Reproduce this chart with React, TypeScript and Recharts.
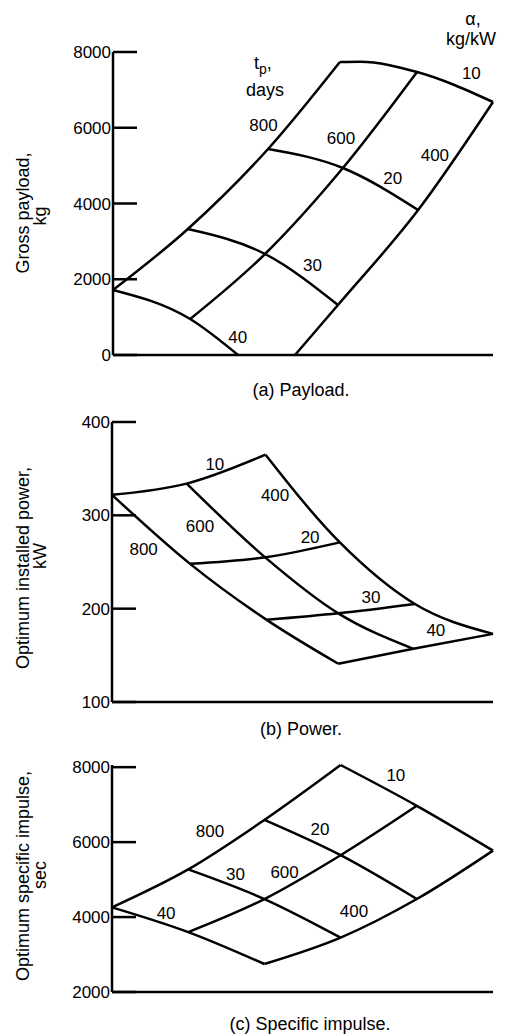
import React from 'react';
import { LineChart, Line, XAxis, YAxis, ReferenceDot } from 'recharts';

type Pt = { x: number; y: number };
type Tag = { x: number; y: number; text: string };

const FONT = "'Liberation Sans', Arial, sans-serif";

// x is the carpet offset (no physical axis), y is the plotted quantity

// (a) gross payload, kg
const payloadTp800: Pt[] = [{ x: 0, y: 1716 }, { x: 19.7, y: 3327 }, { x: 40.8, y: 5439 }, { x: 59.7, y: 7736 }];
const payloadTp600: Pt[] = [{ x: 20.3, y: 950 }, { x: 40, y: 2667 }, { x: 60.5, y: 4937 }, { x: 80, y: 7472 }];
const payloadTp400: Pt[] = [{ x: 47.9, y: 0 }, { x: 59.2, y: 1320 }, { x: 80.3, y: 3828 }, { x: 100, y: 6680 }];
const payloadA10: Pt[] = [{ x: 59.7, y: 7736 }, { x: 65, y: 7740 }, { x: 80, y: 7472 }, { x: 100, y: 6680 }];
const payloadA20: Pt[] = [{ x: 40.8, y: 5439 }, { x: 60.5, y: 4937 }, { x: 80.3, y: 3828 }];
const payloadA30: Pt[] = [{ x: 19.7, y: 3327 }, { x: 40, y: 2667 }, { x: 59.2, y: 1320 }];
const payloadA40: Pt[] = [{ x: 0, y: 1716 }, { x: 20.3, y: 950 }, { x: 32.9, y: 0 }];
const payloadTicks = [0, 2000, 4000, 6000, 8000];
const payloadTags: Tag[] = [
  { x: 39.6, y: 6085, text: '800' },
  { x: 60, y: 5742, text: '600' },
  { x: 84.7, y: 5293, text: '400' },
  { x: 94.3, y: 7458, text: '10' },
  { x: 73.6, y: 4686, text: '20' },
  { x: 52.5, y: 2376, text: '30' },
  { x: 32.8, y: 488, text: '40' },
];

// (b) optimum installed power, kW
const powerTp800: Pt[] = [{ x: 0, y: 322 }, { x: 20.5, y: 248 }, { x: 40.6, y: 188 }, { x: 59.4, y: 141 }];
const powerTp600: Pt[] = [{ x: 19.6, y: 334 }, { x: 40.2, y: 255 }, { x: 59.4, y: 195 }, { x: 79.1, y: 157 }];
const powerTp400: Pt[] = [{ x: 40.3, y: 365 }, { x: 59.8, y: 271 }, { x: 79.5, y: 205 }, { x: 100, y: 173 }];
const powerA10: Pt[] = [{ x: 0, y: 322 }, { x: 19.6, y: 334 }, { x: 40.3, y: 365 }];
const powerA20: Pt[] = [{ x: 20.5, y: 248 }, { x: 40.2, y: 255 }, { x: 59.8, y: 271 }];
const powerA30: Pt[] = [{ x: 40.6, y: 188 }, { x: 59.4, y: 195 }, { x: 79.5, y: 205 }];
const powerA40: Pt[] = [{ x: 59.4, y: 141 }, { x: 79.1, y: 157 }, { x: 100, y: 173 }];
const powerTicks = [100, 200, 300, 400];
const powerTags: Tag[] = [
  { x: 27, y: 355, text: '10' },
  { x: 42.8, y: 322, text: '400' },
  { x: 23.1, y: 289, text: '600' },
  { x: 8.3, y: 264, text: '800' },
  { x: 52, y: 277, text: '20' },
  { x: 68, y: 212, text: '30' },
  { x: 85, y: 177, text: '40' },
];

// (c) optimum specific impulse, sec
const impulseTp800: Pt[] = [{ x: 0, y: 4259 }, { x: 20, y: 5272 }, { x: 40, y: 6592 }, { x: 60, y: 8058 }];
const impulseTp600: Pt[] = [{ x: 20, y: 3599 }, { x: 40, y: 4481 }, { x: 60, y: 5650 }, { x: 80, y: 6969 }];
const impulseTp400: Pt[] = [{ x: 40, y: 2747 }, { x: 60, y: 3451 }, { x: 80, y: 4481 }, { x: 100, y: 5774 }];
const impulseA10: Pt[] = [{ x: 60, y: 8058 }, { x: 80, y: 6969 }, { x: 100, y: 5774 }];
const impulseA20: Pt[] = [{ x: 40, y: 6592 }, { x: 60, y: 5650 }, { x: 80, y: 4481 }];
const impulseA30: Pt[] = [{ x: 20, y: 5272 }, { x: 40, y: 4481 }, { x: 60, y: 3451 }];
const impulseA40: Pt[] = [{ x: 0, y: 4259 }, { x: 20, y: 3599 }, { x: 40, y: 2747 }];
const impulseTicks = [2000, 4000, 6000, 8000];
const impulseTags: Tag[] = [
  { x: 74.5, y: 7800, text: '10' },
  { x: 25.7, y: 6296, text: '800' },
  { x: 54.6, y: 6349, text: '20' },
  { x: 32.4, y: 5162, text: '30' },
  { x: 45.3, y: 5214, text: '600' },
  { x: 14.2, y: 4106, text: '40' },
  { x: 63.5, y: 4159, text: '400' },
];

const AxisTick = (props: any) => {
  const { x, y, payload } = props;
  return (
    <g>
      <line x1={x} y1={y} x2={x + 24} y2={y} stroke="#000" strokeWidth={2.5} />
      <text x={x - 2} y={y} dy={6} textAnchor="end" fontSize={17} fontFamily={FONT} fill="#000">
        {payload.value}
      </text>
    </g>
  );
};

interface PanelProps {
  top: number;
  height: number;
  marginTop: number;
  marginBottom: number;
  axisWidth: number;
  domain: [number, number];
  ticks: number[];
  lines: Pt[][];
  tags: Tag[];
}

const CarpetPanel: React.FC<PanelProps> = ({ top, height, marginTop, marginBottom, axisWidth, domain, ticks, lines, tags }) => (
  <div style={{ position: 'absolute', left: 0, top }}>
    <LineChart width={509} height={height} margin={{ top: marginTop, right: 16, bottom: marginBottom, left: 0 }}>
      <XAxis
        type="number"
        dataKey="x"
        domain={[0, 100]}
        height={1}
        tick={false}
        tickLine={false}
        axisLine={{ stroke: '#000', strokeWidth: 2.5 }}
      />
      <YAxis
        type="number"
        dataKey="y"
        domain={domain}
        ticks={ticks}
        width={axisWidth}
        tickSize={0}
        tickMargin={0}
        tickLine={false}
        tick={<AxisTick />}
        axisLine={{ stroke: '#000', strokeWidth: 2.5 }}
        interval={0}
      />
      {lines.map((d, i) => (
        <Line
          key={i}
          data={d}
          dataKey="y"
          type="monotone"
          stroke="#000"
          strokeWidth={2.5}
          dot={false}
          activeDot={false}
          isAnimationActive={false}
        />
      ))}
      {tags.map((t, i) => (
        <ReferenceDot
          key={'t' + i}
          x={t.x}
          y={t.y}
          r={0}
          shape={(p: any) => (
            <text x={p.cx} y={p.cy} dy={6} textAnchor="middle" fontSize={17} fontFamily={FONT} fill="#000">
              {t.text}
            </text>
          )}
        />
      ))}
    </LineChart>
  </div>
);

export default function App() {
  return (
    <div style={{ position: 'absolute', left: 0, top: 0, width: 509, height: 1036, background: '#fff' }}>
      <CarpetPanel
        top={0}
        height={370}
        marginTop={52}
        marginBottom={14}
        axisWidth={113}
        domain={[0, 8000]}
        ticks={payloadTicks}
        lines={[payloadTp800, payloadTp600, payloadTp400, payloadA10, payloadA20, payloadA30, payloadA40]}
        tags={payloadTags}
      />
      <CarpetPanel
        top={380}
        height={340}
        marginTop={42}
        marginBottom={17}
        axisWidth={112}
        domain={[100, 400]}
        ticks={powerTicks}
        lines={[powerTp800, powerTp600, powerTp400, powerA10, powerA20, powerA30, powerA40]}
        tags={powerTags}
      />
      <CarpetPanel
        top={740}
        height={270}
        marginTop={25}
        marginBottom={17}
        axisWidth={112}
        domain={[2000, 8000]}
        ticks={impulseTicks}
        lines={[impulseTp800, impulseTp600, impulseTp400, impulseA10, impulseA20, impulseA30, impulseA40]}
        tags={impulseTags}
      />
      <svg
        width={509}
        height={1036}
        style={{ position: 'absolute', left: 0, top: 0, pointerEvents: 'none' }}
        fontFamily={FONT}
        fill="#000"
      >
        {/* axis titles */}
        <text transform="translate(29,213) rotate(-90)" textAnchor="middle" fontSize={18}>Gross payload,</text>
        <text transform="translate(46,216) rotate(-90)" textAnchor="middle" fontSize={18}>kg</text>
        <text transform="translate(29,568) rotate(-90)" textAnchor="middle" fontSize={18}>Optimum installed power,</text>
        <text transform="translate(46,556) rotate(-90)" textAnchor="middle" fontSize={18}>kW</text>
        <text transform="translate(29,876) rotate(-90)" textAnchor="middle" fontSize={18}>Optimum specific impulse,</text>
        <text transform="translate(46,875) rotate(-90)" textAnchor="middle" fontSize={18}>sec</text>

        {/* carpet parameter headings */}
        <text x={254} y={69} fontSize={18}>
          t<tspan dy={5} fontSize={14}>p</tspan><tspan dy={-5}>,</tspan>
        </text>
        <text x={265} y={96} textAnchor="middle" fontSize={18}>days</text>
        <text x={473} y={25} textAnchor="middle" fontSize={18}>α,</text>
        <text x={471} y={45} textAnchor="middle" fontSize={18}>kg/kW</text>

        {/* captions */}
        <text x={301} y={396} textAnchor="middle" fontSize={18}>(a) Payload.</text>
        <text x={301} y={735} textAnchor="middle" fontSize={18}>(b) Power.</text>
        <text x={310} y={1030} textAnchor="middle" fontSize={18}>(c) Specific impulse.</text>
      </svg>
    </div>
  );
}
